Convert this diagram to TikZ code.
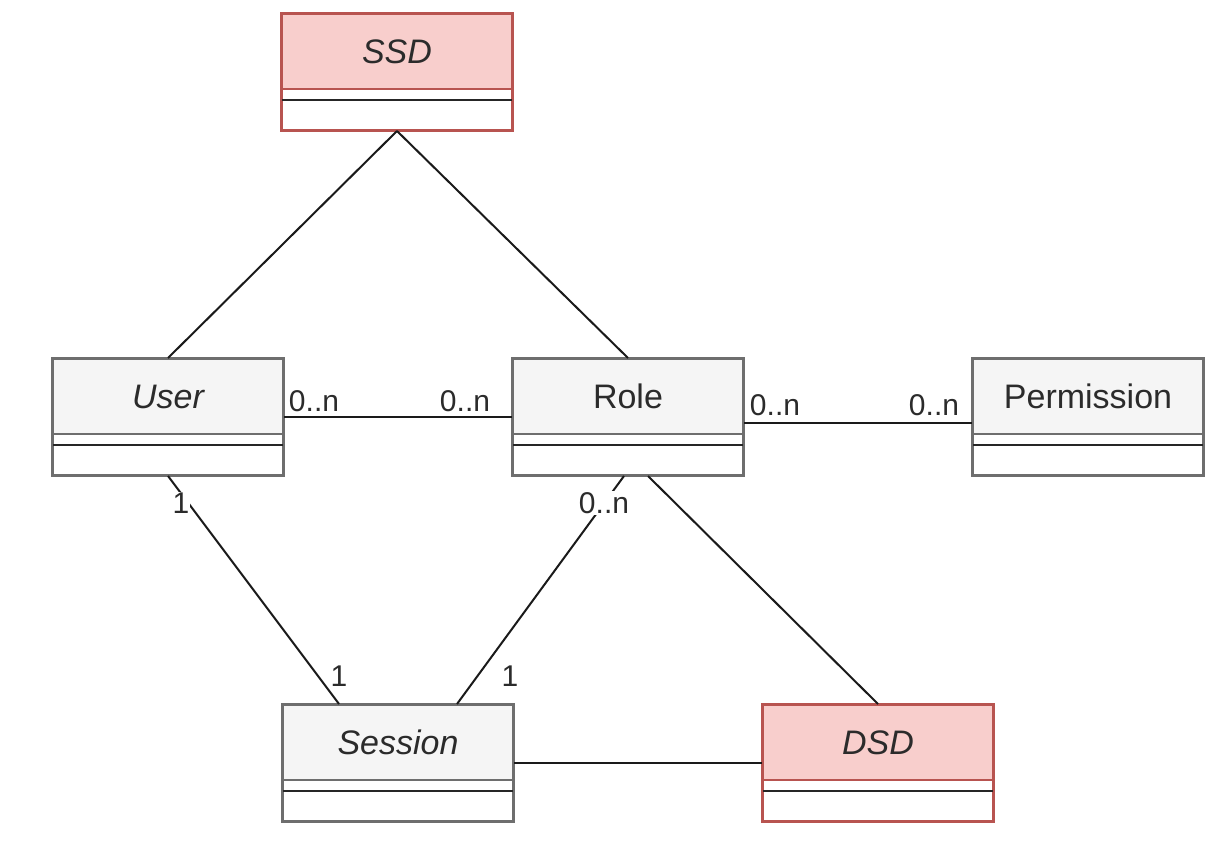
\documentclass[tikz,border=0pt]{standalone}
\usepackage{fontspec}
\setmainfont{Liberation Sans}
\definecolor{grayfill}{HTML}{F5F5F5}
\definecolor{grayline}{HTML}{6E6E6E}
\definecolor{redfill}{HTML}{F8CECC}
\definecolor{redline}{HTML}{B85450}
\definecolor{conn}{HTML}{1A1A1A}
\definecolor{txt}{HTML}{2B2B2B}
\tikzset{
  boxbody/.style={draw=#1, fill=white, line width=2pt, minimum width=230pt, minimum height=116pt, anchor=north west, inner sep=0pt},
  boxhead/.style={line width=2pt, minimum width=230pt, minimum height=75pt, anchor=north west, inner sep=0pt, text=txt, font=\fontsize{34}{40}\selectfont},
  sepline/.style={draw=black!85, line width=2.2pt},
  assoc/.style={draw=conn, line width=2pt},
  mult/.style={fill=white, inner sep=1pt, text=txt, font=\fontsize{30}{34}\selectfont}
}
\newcommand\umlbox[6]{%
  \node[boxbody=#6] (#1) at #2 {};
  \node[boxhead, draw=#6, fill=#5] (#1-h) at #2 {#3};
  \draw[sepline] ([yshift=-87pt]#1.north west) -- ([yshift=-87pt]#1.north east);
  \draw[draw=#6, line width=2pt] (#1.north west) rectangle (#1.south east);
}
\begin{document}
\begin{tikzpicture}[x=1pt,y=-1pt]
\useasboundingbox[fill=white] (0,0) rectangle (1226,842);

\umlbox{ssd}{(281,13)}{\itshape SSD}{}{redfill}{redline}
\umlbox{user}{(52,358)}{\itshape User}{}{grayfill}{grayline}
\umlbox{role}{(512,358)}{Role}{}{grayfill}{grayline}
\umlbox{perm}{(972,358)}{Permission}{}{grayfill}{grayline}
\umlbox{sess}{(282,704)}{\itshape Session}{}{grayfill}{grayline}
\umlbox{dsd}{(762,704)}{\itshape DSD}{}{redfill}{redline}

% connectors
\draw[assoc] (ssd.south) -- (user.north);
\draw[assoc] (ssd.south) -- (role.north);
\draw[assoc] (user.east) -- (role.west);
\draw[assoc] ([yshift=-6pt]role.east) -- ([yshift=-6pt]perm.west);
\draw[assoc] (user.south) -- ([xshift=-59pt]sess.north);
\draw[assoc] ([xshift=-4pt]role.south) -- ([xshift=59pt]sess.north);
\draw[assoc] ([xshift=20pt]role.south) -- (dsd.north);
\draw[assoc] (sess.east) -- (dsd.west);

% multiplicities
\node[mult] (m1) at (314,401) {0..n};
\node[mult] (m2) at (465,401) {0..n};
\node[mult] (m3) at (775,405) {0..n};
\node[mult] (m4) at (934,405) {0..n};
\node[mult] (m5) at (181,503) {1};
\node[mult] (m6) at (604,503) {0..n};
\node[mult] (m7) at (339,676) {1};
\node[mult] (m8) at (510,676) {1};
\end{tikzpicture}
\end{document}
